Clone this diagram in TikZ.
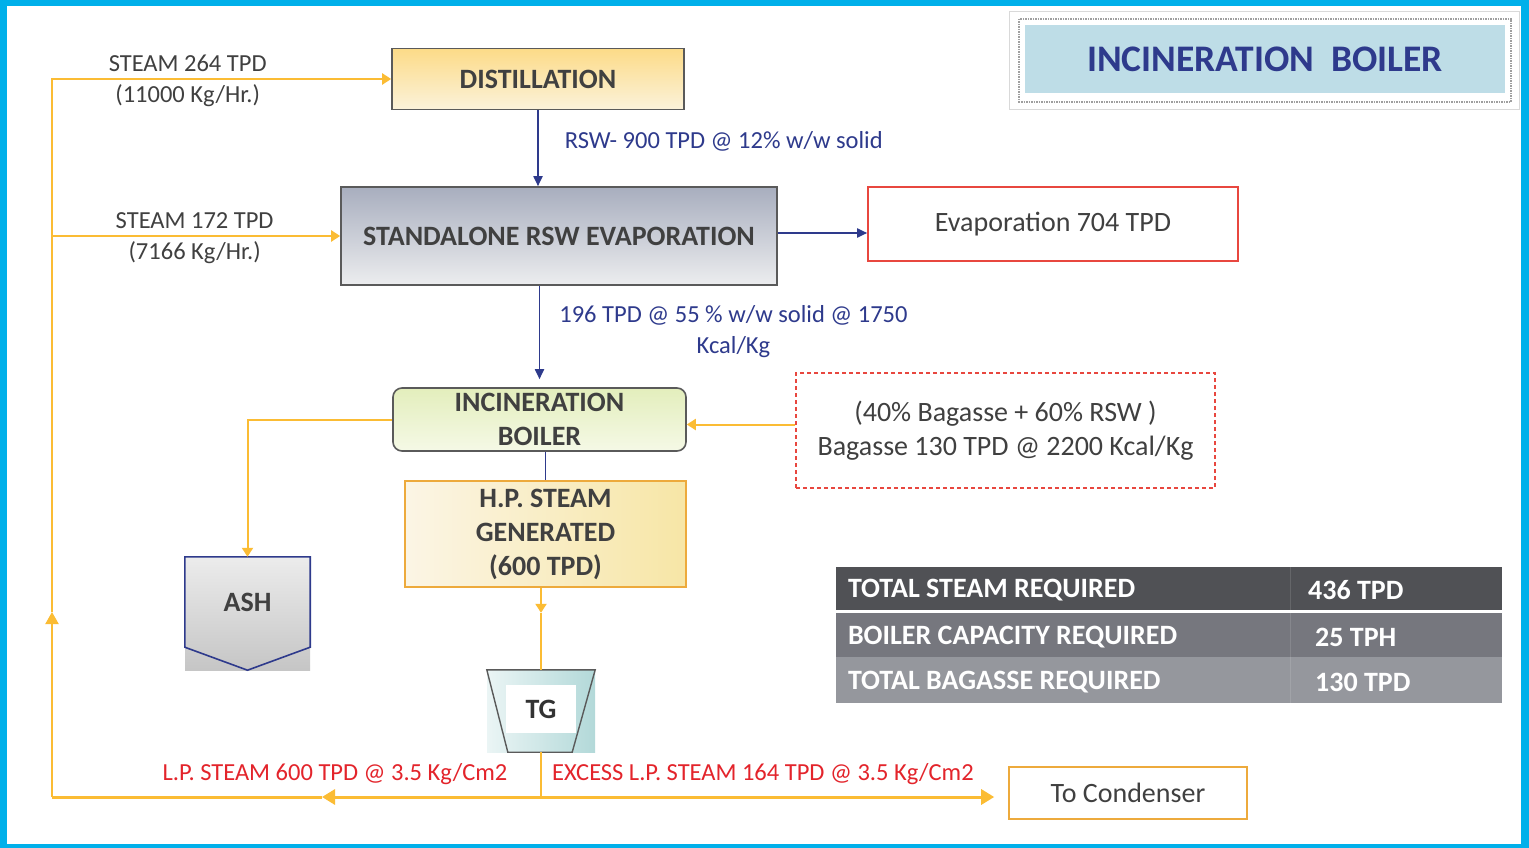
\documentclass[tikz,border=0pt]{standalone}
\usepackage{fontspec}
\setmainfont{Carlito}
\usepackage{xcolor}
\usetikzlibrary{arrows.meta,positioning}
\definecolor{frameblue}{HTML}{00B0EA}
\definecolor{rswblue}{HTML}{2E3A8C}
\definecolor{steamgold}{HTML}{FBBC34}
\definecolor{lpred}{HTML}{E3242B}
\definecolor{boxred}{HTML}{E8473F}
\definecolor{txtgray}{HTML}{404040}
\definecolor{edgegray}{HTML}{5A5A5A}
\definecolor{hporange}{HTML}{EDAA3C}
\definecolor{titlefill}{HTML}{BEDDE7}
\definecolor{rowdark}{HTML}{505155}
\definecolor{rowmid}{HTML}{76777E}
\definecolor{rowlight}{HTML}{95979D}
\definecolor{disttop}{HTML}{FCDB88}
\definecolor{distbot}{HTML}{FBF2DA}
\definecolor{evaptop}{HTML}{A8AEBE}
\definecolor{evapbot}{HTML}{ECEDEF}
\definecolor{boiltop}{HTML}{E3EEBC}
\definecolor{boilbot}{HTML}{F5F9E6}
\definecolor{hpleft}{HTML}{FBF5E5}
\definecolor{hpright}{HTML}{F7E6A6}

\begin{document}
\begin{tikzpicture}[x=1pt, y=-1pt,
every node/.style = {align=center, text centered, inner sep=0pt, text=txtgray},
smalltxt/.style = {font=\fontsize{24.5}{31}\selectfont, inner sep=2pt},
bigtxt/.style = {font=\fontsize{28}{34}\selectfont},
boxtxt/.style = {font=\bfseries\fontsize{28}{34}\selectfont},
celltxt/.style = {font=\bfseries\fontsize{28}{30}\selectfont, text=white},
unit/.style = {boxtxt, draw=edgegray, line width=1.6pt},
flow/.style = {rswblue, line width=1.8pt, -{Triangle[width=9pt,length=10pt]}},
steam/.style = {steamgold, line width=2pt},
steamarrow/.style = {steam, -{Triangle[width=11pt,length=9pt]}},
lpsteam/.style = {steamgold, line width=3pt, -{Triangle[width=15pt,length=13pt]}},
row/.style = {minimum width=666pt}
]
% frame
\useasboundingbox (0,0) rectangle (1529,848);
\fill[frameblue] (0,0) rectangle (1529,848);
\fill[white] (7,6) rectangle (1521,844);

% title
\node[draw=gray!30, line width=1pt, fill=white, minimum width=510pt, minimum height=98pt] (titlebox) at (1264,61) {};
\draw[gray!75, densely dotted, line width=1.5pt] (1019,19) rectangle (1511,102);
\node[fill=titlefill, minimum width=480pt, minimum height=68pt, text=rswblue,
  font=\bfseries\fontsize{37.5}{40}\selectfont] (title) at (1265,59) {INCINERATION~~BOILER};

% process units
\node[unit, top color=disttop, bottom color=distbot, minimum width=292pt, minimum height=61pt] (dist) at (538,79) {DISTILLATION};
\node[unit, top color=evaptop, bottom color=evapbot, minimum width=436pt, minimum height=98pt] (evap) at (559,236) {STANDALONE RSW EVAPORATION};
\node[bigtxt, draw=boxred, line width=1.6pt, fill=white, minimum width=370pt, minimum height=74pt] (evapout) at (1053,224) {Evaporation 704 TPD};
\node[unit, rounded corners=9pt, top color=boiltop, bottom color=boilbot, minimum width=293pt, minimum height=63pt] (boiler) at (539.5,419.5) {INCINERATION\\BOILER};
\node[boxtxt, draw=hporange, line width=1.6pt, left color=hpleft, right color=hpright, minimum width=281pt, minimum height=106pt] (hpsteam) at (545.5,534) {H.P. STEAM\\GENERATED\\(600 TPD)};
\node[bigtxt, draw=boxred, dashed, dash pattern=on 4pt off 3pt, line width=1.4pt, minimum width=419pt, minimum height=115pt] (bagasse) at (1005.5,430.5) {(40\% Bagasse + 60\% RSW )\\Bagasse 130 TPD @ 2200 Kcal/Kg};
\node[bigtxt, draw=hporange, line width=1.6pt, fill=white, minimum width=238pt, minimum height=52pt] (cond) at (1128,793) {To Condenser};

% ash
\node[top color=gray!15, bottom color=gray!45, minimum width=125pt, minimum height=113pt] (ash) at (247.5,613.5) {};
\draw[rswblue, line width=1.6pt] ([yshift=23pt]ash.south west) -- (ash.north west) -- (ash.north east) -- ([yshift=23pt]ash.south east) -- (ash.south) -- cycle;
\node[boxtxt] (ashtxt) at ([yshift=11pt]ash.center) {ASH};

% turbine
\node[left color=teal!8, right color=teal!30, minimum width=108pt, minimum height=82pt] (tg) at (541,711) {};
\draw[edgegray, line width=1.4pt] (tg.north west) -- (tg.north east) -- ([xshift=-23pt]tg.south east) -- ([xshift=21pt]tg.south west) -- cycle;
\node[boxtxt, fill=white, text=black!80, minimum width=70pt, minimum height=48pt] (tgtxt) at ([yshift=2pt]tg.center) {TG};

% summary table
\node[row, fill=rowdark, minimum height=43pt] (rowsteam) at (1169,588.5) {};
\node[row, fill=rowmid, minimum height=44pt] (rowcap) at (1169,635) {};
\node[row, fill=rowlight, minimum height=46pt] (rowbag) at (1169,680) {};
\draw[white, opacity=.12, line width=1pt] (1290,567) -- (1290,703);
\node[celltxt, anchor=west] (steamkey) at ([xshift=12pt,yshift=-2pt]rowsteam.west) {TOTAL STEAM REQUIRED};
\node[celltxt, anchor=west] (steamval) at (1308,590.5) {436 TPD};
\node[celltxt, anchor=west] (capkey) at ([xshift=12pt,yshift=-2pt]rowcap.west) {BOILER CAPACITY REQUIRED};
\node[celltxt, anchor=west] (capval) at (1315,637) {25 TPH};
\node[celltxt, anchor=west] (bagkey) at ([xshift=12pt,yshift=-2pt]rowbag.west) {TOTAL BAGASSE REQUIRED};
\node[celltxt, anchor=west] (bagval) at (1315,682) {130 TPD};

% RSW flow
\draw[flow] (dist.south) -- node[smalltxt, text=rswblue, pos=.41, right=24pt] (rsw900) {RSW- 900 TPD @ 12\% w/w solid} (dist.south |- evap.north);
\draw[flow] ([yshift=3pt]evap.east) -- ([yshift=3pt]evap.east -| evapout.west);
\draw[flow, shorten >=8pt] (boiler.north |- evap.south) -- node[smalltxt, text=rswblue, pos=.45, right=17pt] (rsw196) {196 TPD @ 55 \% w/w solid @ 1750\\Kcal/Kg} (boiler.north);
\draw[rswblue, line width=1.8pt] (boiler.south -| hpsteam.north) -- (hpsteam.north);

% steam circuit
\coordinate (tgin) at ([yshift=57pt]tg.north);
\coordinate (jn) at (541,797);
\coordinate (lpa) at (322,797);
\coordinate (cnr) at (52,797);
\coordinate (upa) at (52,612);
\coordinate (br) at (52,236);
\coordinate (top) at (52,79);
\draw[steamarrow] (boiler.west) -| (ash.north);
\draw[steamarrow] ([yshift=6pt]bagasse.west) -- ([yshift=6pt]bagasse.west -| boiler.east);
\draw[steamarrow] (hpsteam.south -| tgin) -- (tgin);
\draw[steam] (tgin) -- (tg.north);
\draw[steam, line width=1.2pt] (tg.south) -- (jn);
\draw[lpsteam] (jn) -- (lpa);
\draw[lpsteam, shorten >=14pt] (jn) -- (jn -| cond.west);
\draw[steamgold, line width=3pt] (lpa) -- (cnr);
\draw[steam, -{Triangle[width=13pt,length=12pt]}] (cnr) -- (upa);
\draw[steamarrow] (upa) -- (top) -- node[smalltxt, pos=.4, above=4pt] (s264) {STEAM 264 TPD} node[smalltxt, pos=.4, below=3pt] (kg11000) {(11000 Kg/Hr.)} (dist.west);
\draw[steamarrow] (br) -- node[smalltxt, pos=.495, above=4pt] (s172) {STEAM 172 TPD} node[smalltxt, pos=.495, below=3pt] (kg7166) {(7166 Kg/Hr.)} (evap.west);
\node[smalltxt, text=lpred] (lp600) at (335,774) {L.P. STEAM 600 TPD @ 3.5 Kg/Cm2};
\node[smalltxt, text=lpred] (lp164) at (763,774) {EXCESS L.P. STEAM 164 TPD @ 3.5 Kg/Cm2};
\end{tikzpicture}
\end{document}
